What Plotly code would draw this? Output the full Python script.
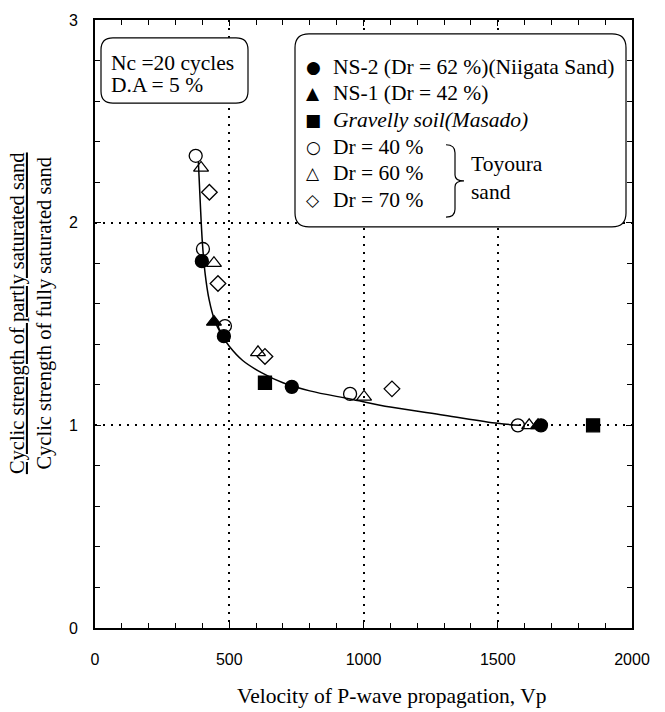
import plotly.graph_objects as go

# ---------------- data ----------------
ns2_vp = [398, 480, 733, 1661]
ns2_r = [1.81, 1.44, 1.19, 1.00]
ns1_vp = [443, 1650]
ns1_r = [1.51, 1.00]
grav_vp = [633, 1855]
grav_r = [1.21, 1.00]
t40_vp = [375, 402, 484, 950, 1575]
t40_r = [2.33, 1.87, 1.49, 1.155, 1.00]
t60_vp = [395, 443, 607, 1002, 1617]
t60_r = [2.27, 1.80, 1.36, 1.14, 1.00]
t70_vp = [426, 458, 633, 1106]
t70_r = [2.15, 1.70, 1.34, 1.18]

curve_vp = [385, 392, 400, 410, 425, 445, 470, 500, 550, 620, 700, 800, 950, 1100, 1300, 1500, 1580]
curve_r = [2.30, 2.10, 1.90, 1.75, 1.62, 1.52, 1.45, 1.39, 1.32, 1.26, 1.21, 1.17, 1.13, 1.09, 1.05, 1.01, 1.00]

x_ticks = [0, 500, 1000, 1500, 2000]
y_ticks = [0, 1, 2, 3]

condition_lines = ["Nc =20 cycles", "D.A = 5 %"]
legend_labels = ["NS-2 (Dr = 62 %)(Niigata Sand)", "NS-1 (Dr = 42 %)", "<i>Gravelly soil(Masado)</i>",
                 "Dr = 40 %", "Dr = 60 %", "Dr = 70 %"]
legend_symbols = ["●", "▲", "■", "○", "△", "◇"]

# ---------------- layout geometry ----------------
W, H = 665, 712
PL, PR, PT, PB = 95, 632, 14, 628
SERIF = "Liberation Serif"
SANS = "Liberation Sans"
TXT = 21.5


def fx(px):
    return (px - PL) / (PR - PL)


def fy(py):
    return (PB - py) / (PB - PT)


def rounded_rect(x0, y0, x1, y1, r):
    rx = r / (PR - PL)
    ry = r / (PB - PT)
    X0, X1 = fx(x0), fx(x1)
    YT, YB = fy(y0), fy(y1)
    return (f"M {X0+rx},{YT} L {X1-rx},{YT} Q {X1},{YT} {X1},{YT-ry} "
            f"L {X1},{YB+ry} Q {X1},{YB} {X1-rx},{YB} L {X0+rx},{YB} "
            f"Q {X0},{YB} {X0},{YB+ry} L {X0},{YT-ry} Q {X0},{YT} {X0+rx},{YT} Z")


fig = go.Figure()

fig.add_trace(go.Scatter(x=curve_vp, y=curve_r, mode="lines", line=dict(color="black", width=1.5, shape="spline"),
                         showlegend=False, hoverinfo="skip"))

mk_line = dict(color="black", width=1.3)
series = [
    (t40_vp, t40_r, "circle-open", 13),
    (t60_vp, t60_r, "triangle-up-open", 13),
    (t70_vp, t70_r, "diamond-open", 12),
    (grav_vp, grav_r, "square", 13),
    (ns1_vp, ns1_r, "triangle-up", 13),
    (ns2_vp, ns2_r, "circle", 13),
]
for xs, ys, sym, size in series:
    fig.add_trace(go.Scatter(x=xs, y=ys, mode="markers",
                             marker=dict(symbol=sym, size=size, color="black", line=mk_line),
                             showlegend=False))

axis_common = dict(
    showline=True, linecolor="black", linewidth=1.6, mirror="allticks",
    ticks="inside", ticklen=6, tickwidth=1.2, tickcolor="black",
    showgrid=True, gridcolor="black", gridwidth=1.6, griddash="2px,6px",
    zeroline=False, tickfont=dict(family=SANS, size=16, color="black"),
)

fig.update_xaxes(range=[0, 2000], tickvals=x_ticks, ticktext=[str(v) for v in x_ticks],
                 minor=dict(dtick=100, ticks="inside", ticklen=5, tickcolor="black", showgrid=False),
                 ticklabelstandoff=16, **axis_common)
fig.update_yaxes(range=[0, 3], tickvals=y_ticks, ticktext=[str(v) for v in y_ticks],
                 minor=dict(dtick=0.2, ticks="inside", ticklen=5, tickcolor="black", showgrid=False),
                 ticklabelstandoff=12, **axis_common)

shapes = []
# condition box
shapes.append(dict(type="path", xref="paper", yref="paper", path=rounded_rect(101, 32, 248, 98, 12),
                   line=dict(color="black", width=1.2), fillcolor="white", layer="above"))
# legend box
shapes.append(dict(type="path", xref="paper", yref="paper", path=rounded_rect(295, 28, 626, 223, 14),
                   line=dict(color="black", width=1.2), fillcolor="white", layer="above"))
# brace
bx0, bx1, byt, byb = 446, 464, 140, 213
bm = (byt + byb) / 2
bxm = (bx0 + bx1) / 2
brace = (f"M {fx(bx0)},{fy(byt)} Q {fx(bxm)},{fy(byt)} {fx(bxm)},{fy(byt+8)} "
         f"L {fx(bxm)},{fy(bm-6)} Q {fx(bxm)},{fy(bm)} {fx(bx1)},{fy(bm)} "
         f"Q {fx(bxm)},{fy(bm)} {fx(bxm)},{fy(bm+6)} L {fx(bxm)},{fy(byb-8)} "
         f"Q {fx(bxm)},{fy(byb)} {fx(bx0)},{fy(byb)}")
shapes.append(dict(type="path", xref="paper", yref="paper", path=brace,
                   line=dict(color="black", width=1.2), layer="above"))
fig.update_layout(shapes=shapes)

ann = []
for line_txt, ly in zip(condition_lines, [57, 80]):
    ann.append(dict(x=fx(109), y=fy(ly), xref="paper", yref="paper", xanchor="left", yanchor="middle",
                    text=line_txt, showarrow=False, align="left",
                    font=dict(family=SERIF, size=TXT, color="black")))
row_y = [61, 88, 115, 142, 169, 196]
for sym, lab, ry in zip(legend_symbols, legend_labels, row_y):
    ann.append(dict(x=fx(313), y=fy(ry), xref="paper", yref="paper", xanchor="center", yanchor="middle",
                    text=sym, showarrow=False, font=dict(family="DejaVu Sans", size=17, color="black")))
    ann.append(dict(x=fx(331), y=fy(ry), xref="paper", yref="paper", xanchor="left", yanchor="middle",
                    text=lab, showarrow=False, font=dict(family=SERIF, size=TXT, color="black")))
ann.append(dict(x=fx(469), y=fy(174), xref="paper", yref="paper", xanchor="left", yanchor="middle",
                text="Toyoura<br>sand", showarrow=False, align="left",
                font=dict(family=SERIF, size=TXT, color="black")))
# axis titles
ann.append(dict(x=fx(392), y=fy(697), xref="paper", yref="paper", xanchor="center", yanchor="middle",
                text="Velocity of P-wave propagation, Vp", showarrow=False,
                font=dict(family=SERIF, size=21.5, color="black")))
ann.append(dict(x=fx(31), y=fy(310), xref="paper", yref="paper", xanchor="center", yanchor="middle",
                textangle=-90, align="center",
                text="<u>Cyclic strength of partly saturated sand</u><br>Cyclic strength of fully saturated sand",
                showarrow=False, font=dict(family=SERIF, size=20.5, color="black")))
fig.update_layout(annotations=ann)

fig.update_layout(width=W, height=H, margin=dict(l=PL, r=W - PR, t=PT, b=H - PB),
                  paper_bgcolor="white", plot_bgcolor="white", showlegend=False)

fig.write_html("out.html")
